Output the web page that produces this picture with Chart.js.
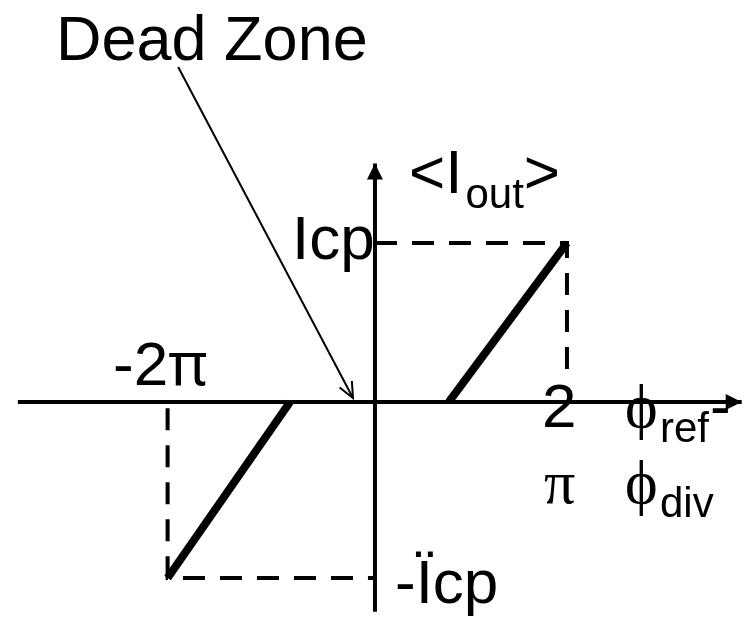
<!DOCTYPE html>
<html>
<head>
<meta charset="utf-8">
<script src="https://cdn.jsdelivr.net/npm/chart.js@4.4.1/dist/chart.umd.min.js"></script>
<style>
  html, body { margin: 0; padding: 0; background: #fff; overflow: hidden; }
  #wrap { width: 746px; height: 626px; position: relative; }
</style>
</head>
<body>
<div id="wrap"><canvas id="pfd"></canvas></div>
<script>
// x in units of pi, y in units of Icp
const xAxisLine = [{x: -3.72, y: 0}, {x: 3.82, y: 0}];
const yAxisLine = [{x: 0, y: -1.32}, {x: 0, y: 1.50}];

// charge pump transfer: dead zone around zero, saturates at +/-Icp
const upperRamp = [{x: 0.77, y: 0}, {x: 2, y: 1}];
const lowerRamp = [{x: -2.16, y: -1.107}, {x: -0.885, y: 0}];

// dashed guide lines to the corners
const upperGuide = [{x: 0, y: 1}, {x: 2, y: 1}, {x: 2, y: 0.17}];
const lowerGuide = [{x: -2.16, y: -0.04}, {x: -2.16, y: -1.107}, {x: 0, y: -1.107}];

// "Dead Zone" pointer
const deadZonePointer = [{x: -2.05, y: 2.107}, {x: -0.229, y: 0.025}];

function seg(data, width, dash) {
    return {
        data: data,
        showLine: true,
        borderColor: '#000',
        borderWidth: width,
        borderDash: dash || [],
        borderCapStyle: 'butt',
        pointRadius: 0,
        pointHoverRadius: 0,
        fill: false,
        tension: 0
    };
}

const sans = '"Liberation Sans", Arial, sans-serif';
const serif = '"Liberation Serif", "Times New Roman", serif';

// draws arrowheads and all the text labels
const labelsPlugin = {
    id: 'labels',
    afterDatasetsDraw(chart) {
        const ctx = chart.ctx;
        const xs = chart.scales.x, ys = chart.scales.y;
        const px = v => xs.getPixelForValue(v);
        const py = v => ys.getPixelForValue(v);
        ctx.save();
        ctx.fillStyle = '#000';
        ctx.strokeStyle = '#000';

        // axis arrowheads
        const ax = px(xAxisLine[1].x), ay = py(0);
        ctx.beginPath();
        ctx.moveTo(ax, ay);
        ctx.lineTo(ax - 16, ay - 8);
        ctx.lineTo(ax - 16, ay + 8);
        ctx.closePath();
        ctx.fill();
        const bx = px(0), by = py(yAxisLine[1].y);
        ctx.beginPath();
        ctx.moveTo(bx, by);
        ctx.lineTo(bx - 8, by + 16);
        ctx.lineTo(bx + 8, by + 16);
        ctx.closePath();
        ctx.fill();

        // open arrowhead on the dead zone pointer
        const p0 = deadZonePointer[0], p1 = deadZonePointer[1];
        const tx = px(p1.x), ty = py(p1.y);
        const ang = Math.atan2(ty - py(p0.y), tx - px(p0.x));
        ctx.lineWidth = 2;
        ctx.beginPath();
        ctx.moveTo(tx - 17 * Math.cos(ang - 0.42), ty - 17 * Math.sin(ang - 0.42));
        ctx.lineTo(tx, ty);
        ctx.lineTo(tx - 17 * Math.cos(ang + 0.42), ty - 17 * Math.sin(ang + 0.42));
        ctx.stroke();

        ctx.textAlign = 'left';
        ctx.textBaseline = 'alphabetic';

        function txt(s, x, y, size, fam) {
            ctx.font = size + 'px ' + (fam || sans);
            ctx.fillText(s, x, y);
            return x + ctx.measureText(s).width;
        }

        txt('Dead Zone', 56, 60, 63);

        // <I_out>
        let x = txt('<I', 409, 193, 62);
        x = txt('out', x + 3, 208, 42);
        txt('>', x, 193, 62);

        txt('Icp', 292, 259, 62);
        x = txt('-2', 113, 385, 62);
        txt('\u03c0', x, 385, 60, '"Noto Sans", sans-serif');
        txt('-\u00cfcp', 395, 603, 62);

        txt('2', 542, 427, 62);
        txt('\u03c0', 544, 503, 62, serif);

        x = txt('\u03d5', 625, 427, 62, serif);
        x = txt('ref', 660, 442, 42);
        txt('-', 710, 427, 62);
        txt('\u03d5', 625, 503, 62, serif);
        txt('div', 660, 517, 42);

        ctx.restore();
    }
};

const ctx = document.getElementById('pfd').getContext('2d');
const pfdChart = new Chart(ctx, {
    type: 'scatter',
    data: {
        datasets: [
            seg(xAxisLine, 4),
            seg(yAxisLine, 4),
            seg(upperGuide, 4, [22, 15]),
            seg(lowerGuide, 4, [22, 15]),
            seg(upperRamp, 8),
            seg(lowerRamp, 8),
            seg(deadZonePointer, 2)
        ]
    },
    options: {
        responsive: true,
        maintainAspectRatio: false,
        animation: false,
        layout: { padding: 0 },
        plugins: {
            legend: { display: false },
            tooltip: { enabled: false }
        },
        scales: {
            x: { type: 'linear', display: false, min: -3.906, max: 3.865 },
            y: { type: 'linear', display: false, min: -1.409, max: 2.528 }
        }
    },
    plugins: [labelsPlugin]
});
</script>
</body>
</html>
